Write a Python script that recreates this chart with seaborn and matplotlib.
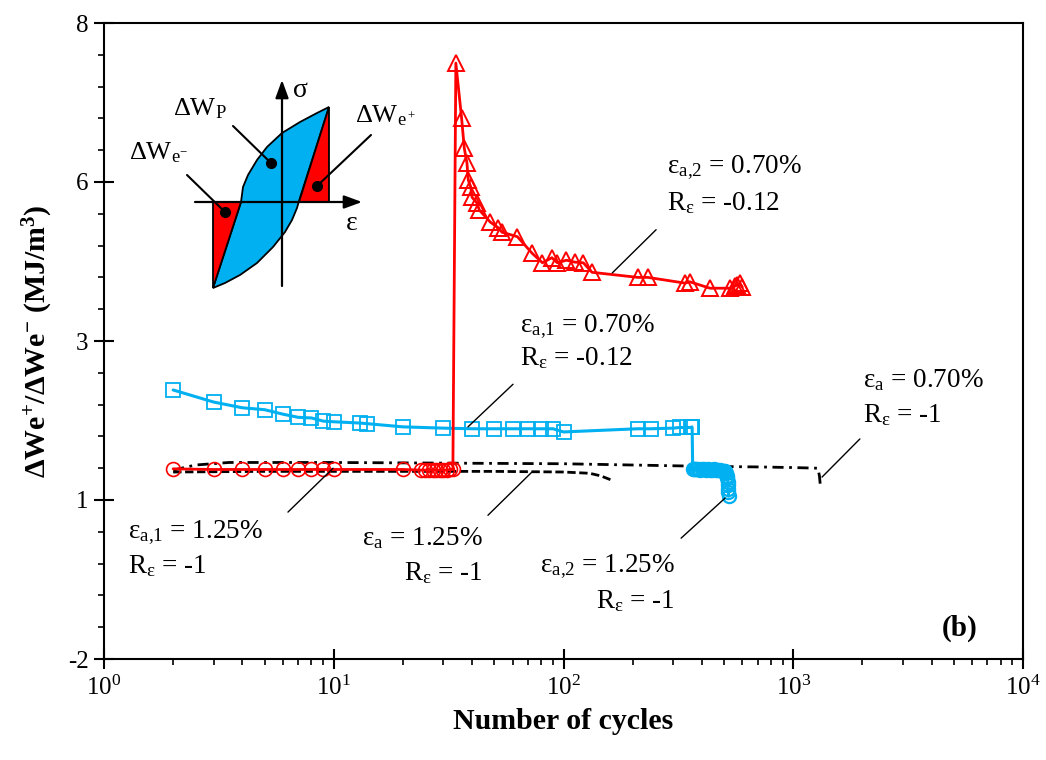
import matplotlib.pyplot as plt
import matplotlib.ticker as mticker
from matplotlib.patches import Polygon
import seaborn as sns

# ---- data ----
# eps_a,1 = 1.25 %, R = -1 (red circles) followed by eps_a,2 = 0.70 %, R = -0.12 (red triangles)
red_circ_N = [2, 3, 4, 5, 6, 7, 8, 9, 10, 20, 24, 25, 26, 27, 28, 29, 30, 31, 32, 33]
red_circ_v = [0.99, 0.98, 0.98, 0.98, 0.98, 0.98, 0.98, 0.98, 0.98, 0.98,
              0.97, 0.97, 0.97, 0.97, 0.97, 0.97, 0.97, 0.97, 0.98, 0.98]
red_tri_N = [34, 36, 37, 38, 38.5, 39.5, 40, 42, 43, 48, 52, 54, 63, 73, 81, 89, 94,
             103, 112, 122, 133, 211, 233, 338, 355, 434, 530, 555, 570, 585, 600]
red_tri_v = [7.37, 6.51, 6.03, 5.80, 5.53, 5.42, 5.26, 5.17, 5.06, 4.87, 4.78, 4.71,
             4.64, 4.38, 4.23, 4.31, 4.23, 4.27, 4.24, 4.23, 4.08, 4.00, 4.00, 3.91,
             3.93, 3.83, 3.83, 3.86, 3.88, 3.91, 3.85]

# eps_a,1 = 0.70 %, R = -0.12 (blue squares) followed by eps_a,2 = 1.25 %, R = -1 (blue circles)
blue_sq_N = [2, 3, 4, 5, 6, 7, 8, 9, 10, 13, 14, 20, 30, 40, 50, 60, 70, 80, 90, 100,
             210, 240, 300, 320, 360, 362, 363]
blue_sq_v = [2.23, 2.04, 1.95, 1.92, 1.85, 1.80, 1.79, 1.74, 1.73, 1.71, 1.70, 1.65,
             1.63, 1.62, 1.62, 1.62, 1.62, 1.62, 1.62, 1.57, 1.62, 1.62, 1.63, 1.64,
             1.64, 1.65, 1.64]
blue_ci_N = [365, 368, 372, 378, 385, 392, 400, 408, 416, 425, 434, 443, 452, 462,
             472, 482, 492, 500, 507, 512, 515, 517, 519, 520, 521, 522, 523]
blue_ci_v = [0.98, 0.98, 0.99, 0.98, 0.98, 0.97, 0.98, 0.98, 0.97, 0.98, 0.97, 0.97,
             0.98, 0.97, 0.97, 0.97, 0.96, 0.96, 0.95, 0.92, 0.88, 0.84, 0.79, 0.74,
             0.68, 0.62, 0.56]

# single-level tests, R = -1
ca125_N = [2, 5, 10, 20, 50, 100, 130, 145, 160]
ca125_v = [0.94, 0.95, 0.95, 0.95, 0.95, 0.94, 0.92, 0.88, 0.82]
ca070_N = [2, 2.5, 3.5, 10, 30, 100, 200, 400, 700, 1000, 1280, 1300, 1310]
ca070_v = [0.97, 1.05, 1.09, 1.09, 1.08, 1.07, 1.05, 1.03, 1.02, 1.01, 1.00, 0.88, 0.75]

ytick_pos = [-2, 0.5, 3, 5.5, 8]
ytick_lab = ['-2', '1', '3', '6', '8']

RED = '#FF0000'
BLUE = '#00B0F0'

sns.set_theme(style='ticks')
plt.rcParams['font.family'] = ['Liberation Serif', 'DejaVu Serif']
plt.rcParams['mathtext.fontset'] = 'custom'
plt.rcParams['mathtext.rm'] = 'Liberation Serif'
plt.rcParams['mathtext.it'] = 'Liberation Serif:italic'
plt.rcParams['mathtext.bf'] = 'Liberation Serif:bold'
for k in ['text.color', 'axes.labelcolor', 'xtick.color', 'ytick.color', 'axes.edgecolor']:
    plt.rcParams[k] = 'black'

fig = plt.figure(figsize=(10.46, 7.6), dpi=100)
ax = fig.add_axes([104 / 1046, 1 - 659 / 760, 919 / 1046, 636 / 760])

# lines
sns.lineplot(x=ca125_N, y=ca125_v, ax=ax, color='black', lw=2,
             linestyle=(0, (3, 1.3)), sort=False, estimator=None)
sns.lineplot(x=ca070_N, y=ca070_v, ax=ax, color='black', lw=2,
             linestyle=(0, (4, 2, 1, 2)), sort=False, estimator=None)
sns.lineplot(x=blue_sq_N + blue_ci_N, y=blue_sq_v + blue_ci_v, ax=ax, color=BLUE,
             lw=2.2, sort=False, estimator=None)
sns.lineplot(x=red_circ_N + red_tri_N, y=red_circ_v + red_tri_v, ax=ax, color=RED,
             lw=2, sort=False, estimator=None)

# markers
mk = dict(ax=ax, linestyle='', sort=False, estimator=None, markerfacecolor='none')
sns.lineplot(x=blue_sq_N, y=blue_sq_v, marker='s', markersize=9.5,
             markeredgecolor=BLUE, markeredgewidth=1.3, **mk)
sns.lineplot(x=blue_ci_N, y=blue_ci_v, marker='o', markersize=9.5,
             markeredgecolor=BLUE, markeredgewidth=1.6, **mk)
sns.lineplot(x=red_circ_N, y=red_circ_v, marker='o', markersize=10,
             markeredgecolor=RED, markeredgewidth=1.2, **mk)
sns.lineplot(x=red_tri_N, y=red_tri_v, marker='^', markersize=11,
             markeredgecolor=RED, markeredgewidth=1.4, **mk)

ax.set_xscale('log')
ax.set_xlim(1, 1e4)
ax.set_ylim(-2, 8)
ax.set_yticks(ytick_pos)
ax.set_yticklabels(ytick_lab)
ax.yaxis.set_minor_locator(mticker.MultipleLocator(0.5))
ax.xaxis.set_major_formatter(mticker.LogFormatterMathtext())
ax.tick_params(which='major', direction='inout', length=14, width=1.5, labelsize=18)
ax.tick_params(axis='x', which='major', pad=5)
ax.tick_params(axis='y', which='major', pad=4)
ax.tick_params(which='minor', direction='out', length=4, width=1.2)
for s in ax.spines.values():
    s.set_linewidth(1.5)

ax.set_xlabel('Number of cycles', fontsize=21.5, fontweight='bold', labelpad=6)
ax.set_ylabel(r'ΔWe$^{\mathbf{+}}$/ΔWe$^{\mathbf{-}}$ (MJ/m$^{\mathbf{3}}$)',
              fontsize=21.5, fontweight='bold', labelpad=9)

# annotations: (line1, line2, x, y1, y2, ha, line start, line end)
notes = [
    (r'ε$_{\mathrm{a{,}2}}$ = 0.70%', r'R$_{\mathrm{ε}}$ = -0.12', 282, 5.64, 5.06, 'left',
     (253, 4.75), (163, 4.07)),
    (r'ε$_{\mathrm{a{,}1}}$ = 0.70%', r'R$_{\mathrm{ε}}$ = -0.12', 64.7, 3.14, 2.62, 'left',
     (60.3, 2.32), (38.4, 1.65)),
    (r'ε$_{\mathrm{a}}$ = 0.70%', r'R$_{\mathrm{ε}}$ = -1', 2010, 2.28, 1.73, 'left',
     (1950, 1.46), (1334, 0.86)),
    (r'ε$_{\mathrm{a{,}1}}$ = 1.25%', r'R$_{\mathrm{ε}}$ = -1', 1.27, -0.10, -0.65, 'left',
     (6.32, 0.31), (9.93, 1.0)),
    (r'ε$_{\mathrm{a}}$ = 1.25%', r'R$_{\mathrm{ε}}$ = -1', 44.6, -0.21, -0.76, 'right',
     (46.9, 0.26), (72.9, 0.94)),
    (r'ε$_{\mathrm{a{,}2}}$ = 1.25%', r'R$_{\mathrm{ε}}$ = -1', 305, -0.63, -1.20, 'right',
     (325, -0.10), (505, 0.53)),
]
for l1, l2, x, y1, y2, ha, p0, p1 in notes:
    ax.text(x, y1, l1, fontsize=19.5, ha=ha, va='baseline')
    ax.text(x, y2, l2, fontsize=19.5, ha=ha, va='baseline')
    ax.annotate('', xy=p1, xytext=p0,
                arrowprops=dict(arrowstyle='-', lw=1, color='black', shrinkA=0, shrinkB=0))

ax.text(5320, -1.51, '(b)', fontsize=21, fontweight='bold', ha='center', va='center')

# ---- hysteresis-loop schematic (drawn in its own pixel frame) ----
ins = fig.add_axes([120 / 1046, 1 - 300 / 760, 320 / 1046, 230 / 760])
ins.set_xlim(120, 440)
ins.set_ylim(300, 70)
ins.axis('off')

loop = [(213, 288), (241, 202), (243, 187), (248, 175), (257, 160), (267, 147),
        (282, 133), (300, 122), (317, 113), (329, 107), (299, 201), (297, 208),
        (292, 220), (285, 232), (273, 247), (257, 263), (240, 275), (225, 283)]
tri_left = [(213, 202), (213, 288), (241, 202)]
tri_right = [(299, 202), (329, 202), (329, 107)]
ins.add_patch(Polygon(loop, closed=True, facecolor=BLUE, edgecolor='black', lw=1.3))
for tri in (tri_left, tri_right):
    ins.add_patch(Polygon(tri, closed=True, facecolor=RED, edgecolor='black', lw=1.3))

arrow = dict(arrowstyle='-|>,head_length=0.6,head_width=0.22', lw=1.6, color='black',
             mutation_scale=18, shrinkA=0, shrinkB=0)
ins.annotate('', xy=(282, 80), xytext=(282, 286), arrowprops=arrow)
ins.annotate('', xy=(362, 202), xytext=(195, 202), arrowprops=arrow)

leader = dict(arrowstyle='-', lw=1.5, color='black', shrinkA=0, shrinkB=0)
for (tx, ty), (dx, dy) in [((233, 126), (271, 163)), ((371, 135), (317, 186)),
                           ((187, 175), (225, 212))]:
    ins.annotate('', xy=(dx, dy), xytext=(tx, ty), arrowprops=leader)
    ins.plot(dx, dy, 'o', color='black', markersize=7)

ins.text(173, 115, r'ΔW$_{\mathrm{P}}$', fontsize=19, va='baseline')
ins.text(355, 122, r'ΔW$_{\mathrm{e}\,^{+}}$', fontsize=19, va='baseline')
ins.text(129, 159, r'ΔW$_{\mathrm{e}^{-}}$', fontsize=19, va='baseline')
ins.text(293, 97, 'σ', fontsize=20, va='baseline')
ins.text(346, 230, 'ε', fontsize=20, va='baseline')

fig.savefig('out.png', dpi=100)
